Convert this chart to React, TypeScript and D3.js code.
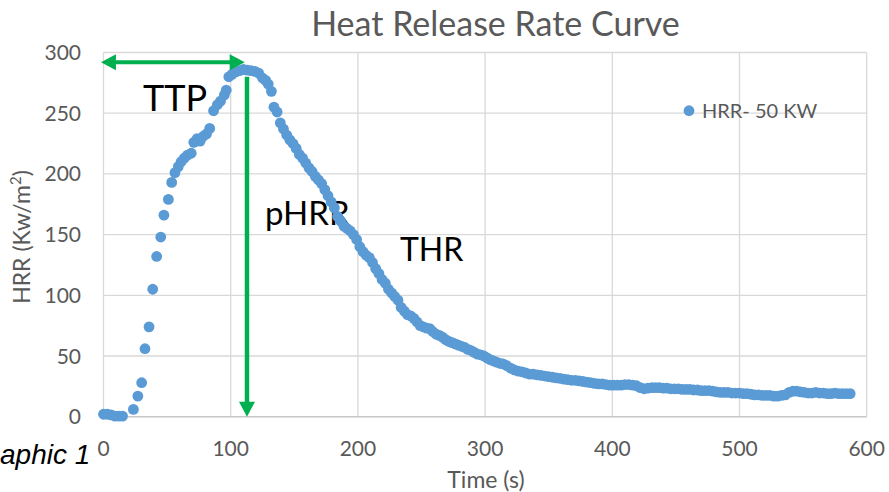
import React from "react";
import * as d3 from "d3";

const times: number[] = [0,3,6,9,12,15,23.5,27,30,32.6,35.8,38.7,41.8,45,47.5,51,53.6,56.2,58.8,61,63.5,66,69,71,73.5,76,78.5,81,83.5,86.5,89.5,92,95,96.5,98.5,101,104,107,110,113,116,119,122,125,127.5,129.5,132,134,136.5,139,141.5,144,146.5,149,151.5,154,156.5,159,161.5,164,166.5,169,171.5,174,176.5,179,181.5,184,186.5,189,191.5,194,196.5,199,201.5,204,206.5,209,211.5,214,216.5,219,221.5,224,226.5,229,231.5,234,236.5,239,241.5,244,246.5,249,251.5,254,256.5,259,261.5,264,266.5,269,271.5,274,276.5,279,281.5,284,286.5,289,291.5,294,296.5,299,301.5,304,306.5,309,311.5,314,317,320,323,326,329,332,335,338,341,344,347,350,353,356,359,362,365,368,371,374,377,380,383,386,389,392,395,398,401,404,407,410,413,416,419,422,425,428,431,434,437,440,443,446,449,452,455,458,461,464,467,470,473,476,479,482,485,488,491,494,497,500,503,506,509,512,515,518,521,524,527,530,533,536,539,542,545,548,551,554,557,560,563,566,569,572,575,578,581,584,587];
const hrr: number[] = [2,2,1.5,0.5,0.5,0.5,6,17,28,56,74,105,132,148,166,179,193,201,206,210,213,215.5,217,226,229,227,231,233,237.5,252,257,260,265,269,280,282,284,285,286,285.5,285,284.5,283,279,277,274,268,255,251,242,237,232,228,225,221,216,213,209,205,202,198,195,192,187,182,177,172,165,161,157,155,153,150,146,140,136,133,131,127,122,118,113,110,105,102,99,96,90,87,84,83,81,78,75,74,73,72.5,70,68,67,65.5,63.5,62,61,60,59,58,57,55.5,54.5,53,51.5,51,50,48.5,47,46,45,44,43.5,42,40,38.5,37.5,37,36,35,35,34.5,34,33.5,33,32.5,32,31.5,31,30.5,30,30,29.5,29,28.5,28,27.5,27,27,26.5,26,26,26,26,26.5,26.5,26,25.5,24,23,23.5,24,24,24,23.5,23.5,23,23,23,22.5,22.5,22.5,22,22,21.5,21.5,21.5,21,20.5,20,20,20,19.5,19.5,19.5,19,19,18.5,18,18,17.5,17.5,17.5,17,17,17.5,18,20,21,21,20.5,20,19.5,19.5,20,19.5,19.5,19,19,19.5,19,19,19,19];

const xTicks: number[] = [0,100,200,300,400,500,600];
const yTicks: number[] = [0,50,100,150,200,250,300];

const titleText = "Heat Release Rate Curve";
const seriesName = "HRR- 50 KW";
const xTitle = "Time (s)";
const yTitleMain = "HRR (Kw/m";
const yTitleSup = "2";
const yTitleEnd = ")";
const captionText = "aphic 1";

// annotations in data units
const ttpArrow = { t0: -2, t1: 111, v: 292 };
const phrrArrow = { t: 112.8, v0: 280, v1: 0 };
const labels: { text: string; t: number; v: number; size: number }[] = [
  { text: "TTP", t: 31, v: 252, size: 36 },
  { text: "pHRR", t: 127, v: 158, size: 33 },
  { text: "THR", t: 233, v: 128.5, size: 32 },
];

const W = 889;
const H = 492;
const GREEN = "#00B050";
const BLUE = "#5B9BD5";
const GRID = "#D9D9D9";
const TXT = "#595959";
const FONT = "Lato, 'Open Sans', sans-serif";

export default function App() {
  const x = d3.scaleLinear().domain([0, 600]).range([103.5, 866.7]);
  const y = d3.scaleLinear().domain([0, 300]).range([416.7, 52.5]);
  const head = 15;
  const hw = 8;

  const hx0 = x(ttpArrow.t0);
  const hx1 = x(ttpArrow.t1);
  const hy = y(ttpArrow.v);
  const vx = x(phrrArrow.t);
  const vy0 = y(phrrArrow.v0);
  const vy1 = y(phrrArrow.v1);

  return (
    <svg width={W} height={H} style={{ position: "absolute", left: 0, top: 0, background: "#fff" }}>
      <rect x={0} y={0} width={W} height={H} fill="#fff" />
      {/* gridlines */}
      {yTicks.filter((t) => t > 0).map((t) => (
        <line key={"gy" + t} x1={x(0)} x2={x(600)} y1={y(t)} y2={y(t)} stroke={GRID} strokeWidth={1.3} />
      ))}
      {xTicks.map((t) => (
        <line key={"gx" + t} x1={x(t)} x2={x(t)} y1={y(0)} y2={y(300)} stroke={GRID} strokeWidth={1.3} />
      ))}
      <line x1={x(0)} x2={x(600)} y1={y(0)} y2={y(0)} stroke="#C8C8C8" strokeWidth={1.6} />

      {/* tick labels */}
      {yTicks.map((t) => (
        <text key={"ty" + t} x={81} y={y(t)} dy="0.36em" textAnchor="end" fontFamily={FONT} fontSize={21} fill={TXT}>
          {t}
        </text>
      ))}
      {xTicks.map((t) => (
        <text key={"tx" + t} x={x(t)} y={456} textAnchor="middle" fontFamily={FONT} fontSize={21} fill={TXT}>
          {t}
        </text>
      ))}

      {/* title */}
      <text x={495.5} y={36} textAnchor="middle" fontFamily={FONT} fontSize={34} fill={TXT}>
        {titleText}
      </text>

      {/* axis titles */}
      <text x={486} y={488} textAnchor="middle" fontFamily={FONT} fontSize={23} fill={TXT}>
        {xTitle}
      </text>
      <text transform={`translate(30,237) rotate(-90)`} textAnchor="middle" fontFamily={FONT} fontSize={23} fill={TXT}>
        {yTitleMain}
        <tspan fontSize={15} dy={-9}>{yTitleSup}</tspan>
        <tspan dy={9}>{yTitleEnd}</tspan>
      </text>

      {/* caption fragment */}
      <text x={0} y={464} fontFamily="'Liberation Sans', Arial, sans-serif" fontStyle="italic" fontSize={28} fill="#000">
        {captionText}
      </text>

      {/* annotation labels (under the points) */}
      {labels.map((l) => (
        <text key={l.text} x={x(l.t)} y={y(l.v)} fontFamily={FONT} fontSize={l.size} fill="#000">
          {l.text}
        </text>
      ))}

      {/* data points */}
      {times.map((t, i) => (
        <circle key={"p" + i} cx={x(t)} cy={y(hrr[i])} r={5.4} fill={BLUE} />
      ))}

      {/* arrows */}
      <line x1={hx0 + head - 2} x2={hx1 - head + 2} y1={hy} y2={hy} stroke={GREEN} strokeWidth={4} />
      <path d={`M${hx0},${hy} L${hx0 + head},${hy - hw} L${hx0 + head},${hy + hw} Z`} fill={GREEN} />
      <path d={`M${hx1},${hy} L${hx1 - head},${hy - hw} L${hx1 - head},${hy + hw} Z`} fill={GREEN} />
      <line x1={vx} x2={vx} y1={vy0} y2={vy1 - head + 2} stroke={GREEN} strokeWidth={4.5} />
      <path d={`M${vx},${vy1} L${vx - hw},${vy1 - head} L${vx + hw},${vy1 - head} Z`} fill={GREEN} />

      {/* legend */}
      <circle cx={689} cy={110.7} r={5.4} fill={BLUE} />
      <text x={702} y={118} fontFamily={FONT} fontSize={20} fill={TXT}>
        {seriesName}
      </text>
    </svg>
  );
}
